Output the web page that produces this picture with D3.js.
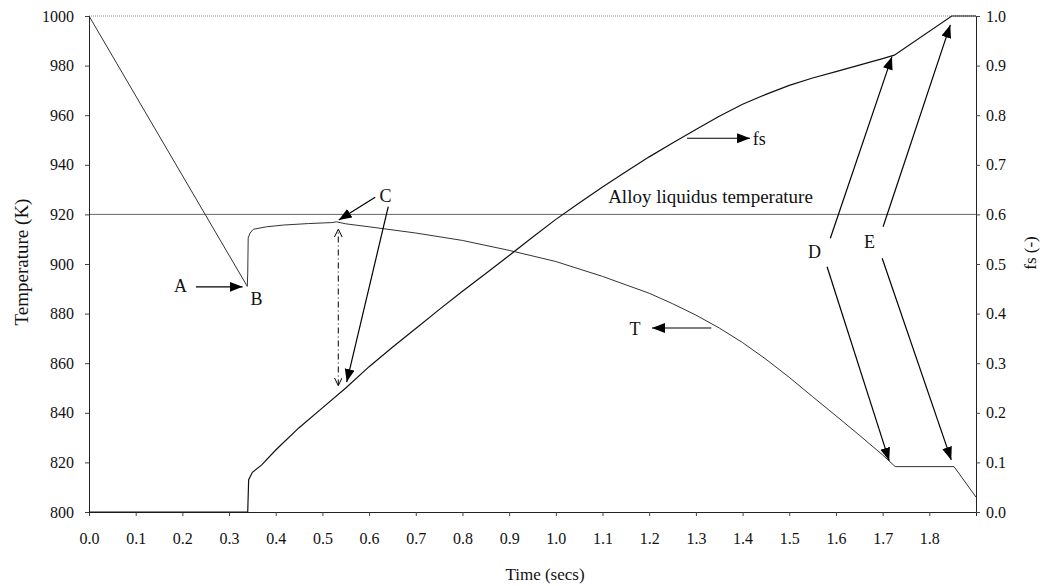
<!DOCTYPE html>
<meta charset="utf-8">
<script src="https://d3js.org/d3.v7.min.js"></script>
<style>
  body { margin: 0; background: #fff; }
  text { font-family: "Liberation Serif", "Times New Roman", serif; fill: #111; }
</style>
<svg id="chart" width="1043" height="586"></svg>
<script>

// Temperature T (K) against time (secs)
var tempTime = [0, 0.339, 0.340, 0.341, 0.345, 0.352, 0.38, 0.416, 0.47, 0.52, 0.53, 0.55, 0.6, 0.7, 0.8, 0.9, 1.0, 1.1, 1.2, 1.25, 1.3, 1.35, 1.4, 1.45, 1.5, 1.55, 1.6, 1.65, 1.7, 1.727, 1.853, 1.9];
var tempVal  = [1000, 891, 896, 910.5, 912.5, 914, 915, 915.7, 916.3, 916.7, 917, 916.2, 915, 912.5, 909.5, 905.5, 901, 895, 888.2, 884.0, 879.4, 874.2, 868.3, 861.6, 854.3, 846.5, 838.8, 831, 823, 818.3, 818.3, 806];

// solid fraction fs (-) against time (secs)
var fsTime = [0, 0.340, 0.342, 0.35, 0.37, 0.4, 0.45, 0.5, 0.55, 0.6, 0.65, 0.7, 0.75, 0.8, 0.85, 0.9, 0.95, 1.0, 1.05, 1.1, 1.15, 1.2, 1.25, 1.3, 1.35, 1.4, 1.45, 1.5, 1.55, 1.6, 1.65, 1.7, 1.725, 1.848, 1.9];
var fsVal  = [0, 0, 0.065, 0.08, 0.095, 0.125, 0.17, 0.21, 0.25, 0.293, 0.332, 0.37, 0.408, 0.445, 0.481, 0.517, 0.554, 0.59, 0.623, 0.655, 0.686, 0.716, 0.744, 0.771, 0.798, 0.822, 0.842, 0.86, 0.875, 0.888, 0.901, 0.914, 0.921, 1.0, 1.0];

var liquidus = 920;

var xTicks = [0.0, 0.1, 0.2, 0.3, 0.4, 0.5, 0.6, 0.7, 0.8, 0.9, 1.0, 1.1, 1.2, 1.3, 1.4, 1.5, 1.6, 1.7, 1.8];
var tempTicks = [800, 820, 840, 860, 880, 900, 920, 940, 960, 980, 1000];
var fsTicks = [0.0, 0.1, 0.2, 0.3, 0.4, 0.5, 0.6, 0.7, 0.8, 0.9, 1.0];

// annotation arrows, in (time, temperature) units
var solidArrows = [
  [[0.229, 890.8], [0.329, 890.8]],   // A
  [[0.613, 926.9], [0.535, 917.7]],   // C -> T peak
  [[0.641, 923.1], [0.552, 852.4]],   // C -> fs
  [[1.281, 950.7], [1.416, 950.7]],   // fs
  [[1.333, 874.2], [1.206, 874.2]],   // T
  [[1.588, 910.4], [1.720, 983.6]],   // D up
  [[1.581, 898.9], [1.714, 820.7]],   // D down
  [[1.701, 915.0], [1.845, 996.4]],   // E up
  [[1.699, 902.3], [1.847, 821.0]]    // E down
];
var labels = [
  ["A", 0.182, 888.7, 18],
  ["B", 0.346, 883.5, 18],
  ["C", 0.622, 924.8, 18],
  ["fs", 1.422, 948.0, 18],
  ["T", 1.158, 871.4, 18],
  ["D", 1.540, 902.6, 18],
  ["E", 1.660, 906.6, 18],
  ["Alloy liquidus temperature", 1.112, 924.6, 19]
];

var svg = d3.select("#chart"),
  margin = {top: 16, right: 67, bottom: 74, left: 89},
  width = +svg.attr("width") - margin.left - margin.right,
  height = +svg.attr("height") - margin.top - margin.bottom;

var x = d3.scaleLinear().domain([0, 1.9]).range([margin.left, margin.left + width]);
var yT = d3.scaleLinear().domain([800, 1000]).range([margin.top + height, margin.top]);
var yF = d3.scaleLinear().domain([0, 1]).range([margin.top + height, margin.top]);

// markers
var defs = svg.append("defs");
defs.append("marker")
  .attr("id", "head")
  .attr("markerUnits", "userSpaceOnUse")
  .attr("markerWidth", 15).attr("markerHeight", 11)
  .attr("refX", 13).attr("refY", 5)
  .attr("orient", "auto")
  .append("path")
  .attr("d", "M0,0 L13,5 L0,10 Z")
  .attr("fill", "#000");
defs.append("marker")
  .attr("id", "open")
  .attr("markerUnits", "userSpaceOnUse")
  .attr("markerWidth", 10).attr("markerHeight", 10)
  .attr("refX", 8).attr("refY", 4)
  .attr("orient", "auto-start-reverse")
  .append("path")
  .attr("d", "M0,0 L8,4 L0,8")
  .attr("fill", "none")
  .attr("stroke", "#000")
  .attr("stroke-width", 1);

// frame: dotted top
svg.append("line")
  .attr("x1", x(0)).attr("x2", x(1.9))
  .attr("y1", yT(1000)).attr("y2", yT(1000))
  .attr("stroke", "#888").attr("stroke-dasharray", "1,1");

// liquidus line
svg.append("line")
  .attr("x1", x(0)).attr("x2", x(1.9))
  .attr("y1", yT(liquidus)).attr("y2", yT(liquidus))
  .attr("stroke", "#666").attr("stroke-width", 1);

// axes
var xAxis = svg.append("g")
  .attr("transform", "translate(0," + (margin.top + height) + ")")
  .call(d3.axisBottom(x).tickValues(xTicks).tickFormat(d3.format(".1f")).tickSizeOuter(0).tickSize(4).tickPadding(17));
var lAxis = svg.append("g")
  .attr("transform", "translate(" + margin.left + ",0)")
  .call(d3.axisLeft(yT).tickValues(tempTicks).tickFormat(d3.format("d")).tickSizeOuter(0).tickSize(4).tickPadding(11));
var rAxis = svg.append("g")
  .attr("transform", "translate(" + (margin.left + width) + ",0)")
  .call(d3.axisRight(yF).tickValues(fsTicks).tickFormat(d3.format(".1f")).tickSizeOuter(0).tickSize(4).tickPadding(6));

[xAxis, lAxis, rAxis].forEach(function(a) {
  a.attr("font-family", "'Liberation Serif', serif").attr("font-size", 16);
  a.select(".domain").attr("stroke", "#222");
  a.selectAll(".tick line").attr("stroke", "#444");
  a.selectAll("text").attr("fill", "#111");
});

// curves
var tempLine = d3.line()
  .x(function(d, i) { return x(tempTime[i]); })
  .y(function(d) { return yT(d); });
var fsLine = d3.line()
  .x(function(d, i) { return x(fsTime[i]); })
  .y(function(d) { return yF(d); });

svg.append("path")
  .attr("d", tempLine(tempVal))
  .attr("fill", "none")
  .attr("stroke", "#333")
  .attr("stroke-width", 1);
svg.append("path")
  .attr("d", fsLine(fsVal))
  .attr("fill", "none")
  .attr("stroke", "#111")
  .attr("stroke-width", 1.2);

// dash-dot double arrow (undercooling)
svg.append("line")
  .attr("x1", x(0.534)).attr("y1", yT(851))
  .attr("x2", x(0.534)).attr("y2", yT(914))
  .attr("stroke", "#000").attr("stroke-width", 1)
  .attr("stroke-dasharray", "6,3,1,3")
  .attr("marker-start", "url(#open)")
  .attr("marker-end", "url(#open)");

// annotation arrows
svg.selectAll(".arrow")
  .data(solidArrows)
  .enter()
  .append("line")
    .attr("class", "arrow")
    .attr("x1", function(d) { return x(d[0][0]); })
    .attr("y1", function(d) { return yT(d[0][1]); })
    .attr("x2", function(d) { return x(d[1][0]); })
    .attr("y2", function(d) { return yT(d[1][1]); })
    .attr("stroke", "#000")
    .attr("stroke-width", 1.2)
    .attr("marker-end", "url(#head)");

svg.selectAll(".lbl")
  .data(labels)
  .enter()
  .append("text")
    .attr("class", "lbl")
    .attr("x", function(d) { return x(d[1]); })
    .attr("y", function(d) { return yT(d[2]); })
    .style("font-size", function(d) { return d[3] + "px"; })
    .text(function(d) { return d[0]; });

// axis titles
svg.append("text")
  .attr("transform", "translate(28,262) rotate(-90)")
  .attr("text-anchor", "middle")
  .style("font-size", "19px")
  .text("Temperature (K)");
svg.append("text")
  .attr("transform", "translate(1036,253) rotate(-90)")
  .attr("text-anchor", "middle")
  .style("font-size", "17px")
  .text("fs (-)");
svg.append("text")
  .attr("x", 545)
  .attr("y", 580)
  .attr("text-anchor", "middle")
  .style("font-size", "17px")
  .text("Time (secs)");

</script>
